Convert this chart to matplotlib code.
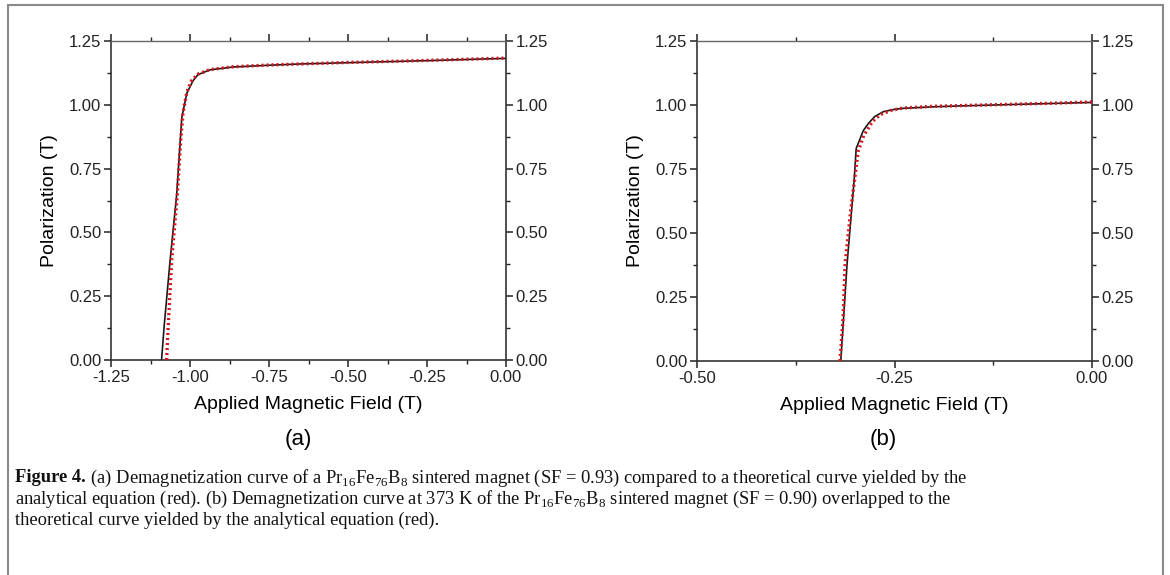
import numpy as np
import matplotlib
matplotlib.use("Agg")
import matplotlib.pyplot as plt
from matplotlib.patches import Rectangle
from matplotlib.ticker import MultipleLocator, FormatStrFormatter

plt.rcParams['font.family'] = ['Liberation Sans', 'DejaVu Sans']

# ---- data ----
# (a) Pr16Fe76B8 sintered magnet, room temperature
h_meas_a = [-1.090, -1.082, -1.063, -1.042, -1.026, -1.010, -0.990, -0.975,
            -0.937, -0.864, -0.750, -0.652, -0.500, -0.250, 0.000]
j_meas_a = [0.000, 0.130, 0.390, 0.650, 0.950, 1.046, 1.095, 1.118,
            1.137, 1.148, 1.155, 1.160, 1.165, 1.173, 1.182]
h_fit_a = [-1.074, -1.069, -1.058, -1.040, -1.030, -1.022, -1.010, -0.995,
           -0.975, -0.937, -0.864, -0.750, -0.500, -0.250, 0.000]
j_fit_a = [0.000, 0.130, 0.390, 0.650, 0.850, 0.970, 1.050, 1.095,
           1.120, 1.138, 1.149, 1.156, 1.166, 1.174, 1.183]

# (b) same magnet at 373 K
h_meas_b = [-0.318, -0.310, -0.301, -0.2985, -0.2895, -0.283, -0.275, -0.264,
            -0.250, -0.239, -0.200, -0.171, -0.100, -0.050, 0.000]
j_meas_b = [0.000, 0.380, 0.710, 0.830, 0.900, 0.928, 0.955, 0.974,
            0.983, 0.987, 0.993, 0.996, 1.002, 1.006, 1.010]
h_fit_b = [-0.319, -0.315, -0.3125, -0.305, -0.300, -0.296, -0.289, -0.285,
           -0.278, -0.268, -0.255, -0.240, -0.200, -0.150, -0.100, -0.050, 0.000]
j_fit_b = [0.000, 0.170, 0.380, 0.600, 0.720, 0.820, 0.880, 0.900,
           0.935, 0.962, 0.978, 0.988, 0.995, 0.999, 1.003, 1.007, 1.012]

W, H = 1170, 575
fig = plt.figure(figsize=(W / 100, H / 100), dpi=100)

# thin grey frame around the whole figure
fig.add_artist(Rectangle((8 / W, -0.05), 1155 / W, 1.05 - 5 / H,
                         transform=fig.transFigure, fill=False,
                         edgecolor='#8a8a8a', linewidth=1.5))

RED = '#d8141c'
DOTS = (0, (0.6, 0.9))


def style_axes(ax, xmin, xstep, xminor):
    ax.set_xlim(xmin, 0.0)
    ax.set_ylim(0.0, 1.25)
    ax.xaxis.set_major_locator(MultipleLocator(xstep))
    ax.xaxis.set_minor_locator(MultipleLocator(xminor))
    ax.yaxis.set_major_locator(MultipleLocator(0.25))
    ax.yaxis.set_minor_locator(MultipleLocator(0.125))
    ax.xaxis.set_major_formatter(FormatStrFormatter('%.2f'))
    ax.yaxis.set_major_formatter(FormatStrFormatter('%.2f'))
    ax.tick_params(which='both', direction='out', top=True, right=True,
                   labelright=True, labelsize=12, colors='#222222',
                   pad=2)
    ax.tick_params(which='major', length=5, width=1.1)
    ax.tick_params(which='minor', length=3, width=1.0)
    for s in ax.spines.values():
        s.set_color('#333333')
        s.set_linewidth(1.2)
    ax.spines['top'].set_color('#666666')
    ax.spines['top'].set_linewidth(1.0)
    ax.set_xlabel('Applied Magnetic Field (T)', fontsize=14, labelpad=8)
    ax.set_ylabel('Polarization (T)', fontsize=14, labelpad=8)


ax1 = fig.add_axes([111 / W, 1 - 360 / H, 395 / W, 319 / H])
ax1.plot(h_meas_a, j_meas_a, color='#1a1a1a', lw=1.2, zorder=2)
ax1.plot(h_fit_a, j_fit_a, color=RED, lw=2.4, linestyle=DOTS, zorder=3)
style_axes(ax1, -1.25, 0.25, 0.125)

ax2 = fig.add_axes([697 / W, 1 - 361 / H, 395 / W, 320 / H])
ax2.plot(h_meas_b, j_meas_b, color='#1a1a1a', lw=1.2, zorder=2)
ax2.plot(h_fit_b, j_fit_b, color=RED, lw=2.4, linestyle=DOTS, zorder=3)
style_axes(ax2, -0.50, 0.25, 0.125)

fig.text(298 / W, 1 - 440 / H, '(a)', ha='center', va='center', fontsize=16)
fig.text(883 / W, 1 - 440 / H, '(b)', ha='center', va='center', fontsize=16)

# ---- caption ----
sub = r'Pr$_{\mathregular{16}}$Fe$_{\mathregular{76}}$B$_{\mathregular{8}}$'
lines = [
    ' (a) Demagnetization curve of a ' + sub +
    ' sintered magnet (SF = 0.93) compared to a theoretical curve yielded by the',
    'analytical equation (red). (b) Demagnetization curve at 373 K of the ' + sub +
    ' sintered magnet (SF = 0.90) overlapped to the',
    'theoretical curve yielded by the analytical equation (red).',
]
serif = ['Liberation Serif', 'DejaVu Serif']
x0 = 15 / W
ys = [1 - 478 / H, 1 - 499 / H, 1 - 520 / H]
fs = 13.3

renderer = fig.canvas.get_renderer()
t0 = fig.text(x0, ys[0], 'Figure 4.', family=serif, weight='bold',
              fontsize=fs, va='center', color='#111111')
bw = t0.get_window_extent(renderer).width / W
fig.text(x0 + bw, ys[0], lines[0], family=serif, fontsize=fs, va='center',
         color='#111111')
fig.text(x0, ys[1], lines[1], family=serif, fontsize=fs, va='center', color='#111111')
fig.text(x0, ys[2], lines[2], family=serif, fontsize=fs, va='center', color='#111111')

fig.savefig('out.png', dpi=100)
